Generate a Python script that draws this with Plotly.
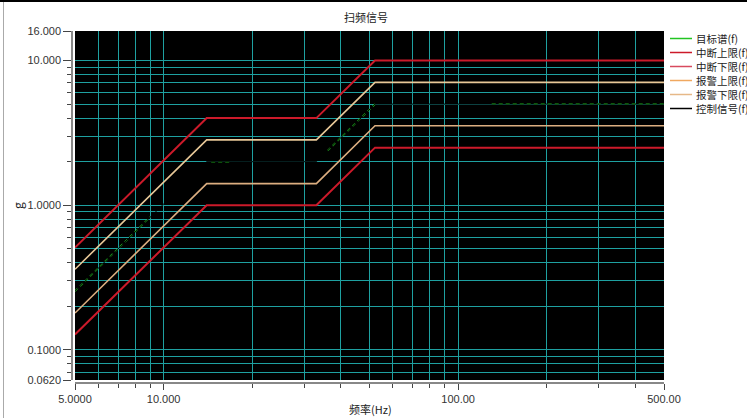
import math
import plotly.graph_objects as go

# ---------------- data ----------------
freq = [5, 14, 33, 52.2, 500]
abort_upper = [0.51, 4.0, 4.0, 10.0, 10.0]
alarm_upper = [0.361, 2.83, 2.83, 7.07, 7.07]
alarm_lower = [0.18, 1.41, 1.41, 3.54, 3.54]
abort_lower = [0.128, 1.0, 1.0, 2.5, 2.5]

# target spectrum (only partly drawn in the reference)
target_freq = [5, 9.0, None, 14.5, 17.0, None, 36.0, 52.2, None, 130, 500]
target_g = [0.255, 0.83, None, 2.0, 2.0, None, 2.38, 5.0, None, 5.0, 5.0]
control_freq = [5, 14, 33, 52.2, 500]
control_g = [0.255, 2.0, 2.0, 5.0, 5.0]

series_names = ["目标谱(f)", "中断上限(f)", "中断下限(f)", "报警上限(f)", "报警下限(f)", "控制信号(f)"]
series_colors = ["#22c422", "#cc1a2a", "#d84a5e", "#f0a860", "#e6b888", "#000000"]

x_major = [5, 10, 100, 500]
x_major_text = ["5.0000", "10.000", "100.00", "500.00"]
x_minor = [6, 7, 8, 9, 20, 30, 40, 50, 60, 70, 80, 90, 200, 300, 400]
y_major = [0.062, 0.1, 1, 10, 16]
y_major_text = ["0.0620", "0.1000", "1.0000", "10.000", "16.000"]
y_minor = [0.07, 0.08, 0.09, 0.2, 0.3, 0.4, 0.5, 0.6, 0.7, 0.8, 0.9,
           2, 3, 4, 5, 6, 7, 8, 9]
x_grid = [6, 7, 8, 9, 10, 20, 30, 40, 50, 60, 70, 80, 90, 100, 200, 300, 400]
y_grid = [0.07, 0.08, 0.09, 0.1, 0.2, 0.3, 0.4, 0.5, 0.6, 0.7, 0.8, 0.9,
          1, 2, 3, 4, 5, 6, 7, 8, 9, 10]

# ---------------- layout geometry (pixels) ----------------
W, H = 747, 418
PL, PR, PT, PB = 72, 664, 31, 383  # paper region
pw, ph = PR - PL, PB - PT


def px(xp):
    return (xp - PL) / pw


def py(yp):
    return (PB - yp) / ph


xr = [math.log10(5), math.log10(500)]
yr = [math.log10(0.062), math.log10(16)]

fig = go.Figure()

grid_col = "#1ea0a0"

lines = [
    (abort_upper, series_colors[1], 2.0),
    (abort_lower, series_colors[1], 2.0),
    (alarm_upper, "#e8c898", 1.6),
    (alarm_lower, "#dcae80", 1.6),
]
for vals, col, w in lines:
    fig.add_trace(go.Scatter(x=freq, y=vals, mode="lines",
                             line=dict(color=col, width=w), showlegend=False,
                             hoverinfo="skip"))

fig.add_trace(go.Scatter(x=target_freq, y=target_g, mode="lines",
                         line=dict(color=series_colors[0], width=1.5, dash="4px,3px"),
                         showlegend=False, connectgaps=False))
fig.add_trace(go.Scatter(x=control_freq, y=control_g, mode="lines",
                         line=dict(color="#000000", width=1), showlegend=False))

# dummy trace for the offset axes
fig.add_trace(go.Scatter(x=[5, 500], y=[0.062, 16], mode="none",
                         xaxis="x2", yaxis="y2", showlegend=False, hoverinfo="skip"))

xdom = [3 / pw, 1]
ydom = [3 / ph, 1]
tickfont = dict(family="Liberation Sans, Arial, sans-serif", size=11, color="#333333")

fig.update_layout(
    width=W, height=H,
    margin=dict(l=PL, r=W - PR, t=PT, b=H - PB, pad=0),
    paper_bgcolor="white",
    plot_bgcolor="black",
    showlegend=False,
    xaxis=dict(type="log", range=xr, domain=xdom, anchor="y",
               tickmode="array", tickvals=x_grid, showticklabels=False, ticks="",
               showgrid=True, gridcolor=grid_col, gridwidth=1, zeroline=False,
               showline=False),
    yaxis=dict(type="log", range=yr, domain=ydom, anchor="x",
               tickmode="array", tickvals=y_grid, showticklabels=False, ticks="",
               showgrid=True, gridcolor=grid_col, gridwidth=1, zeroline=False,
               showline=False),
    xaxis2=dict(type="log", range=xr, domain=xdom, overlaying="x", anchor="free",
                position=0, tickmode="array", tickvals=x_major, ticktext=x_major_text,
                ticks="outside", ticklen=6, tickcolor="#444444", tickwidth=1,
                minor=dict(tickvals=x_minor, ticks="outside", ticklen=4,
                           tickcolor="#444444", showgrid=False, gridcolor=grid_col),
                showgrid=False, gridcolor=grid_col, zeroline=False, showline=True,
                linecolor="#888888", linewidth=1.5, tickfont=tickfont),
    yaxis2=dict(type="log", range=yr, domain=ydom, overlaying="y", anchor="free",
                position=0, side="left", tickmode="array", tickvals=y_major,
                ticktext=y_major_text, ticks="outside", ticklen=8,
                tickcolor="#444444", tickwidth=1,
                minor=dict(tickvals=y_minor, ticks="outside", ticklen=4,
                           tickcolor="#444444", showgrid=False, gridcolor=grid_col),
                showgrid=False, gridcolor=grid_col, zeroline=False, showline=True,
                linecolor="#888888", linewidth=1.5, tickfont=tickfont),
)

cjk = "Noto Sans CJK SC, Liberation Sans, sans-serif"
annotations = [
    dict(text="扫频信号", x=px(366), y=py(17), xref="paper", yref="paper",
         showarrow=False, xanchor="center", yanchor="middle",
         font=dict(family=cjk, size=11, color="#222222")),
    dict(text="g", x=px(17), y=py(206), xref="paper", yref="paper",
         showarrow=False, textangle=-90, xanchor="center", yanchor="middle",
         font=dict(family=cjk, size=12, color="#222222")),
    dict(text="频率(Hz)", x=px(370), y=py(409), xref="paper", yref="paper",
         showarrow=False, xanchor="center", yanchor="middle",
         font=dict(family=cjk, size=11, color="#222222")),
]
shapes = []
for i, (name, col) in enumerate(zip(series_names, series_colors)):
    ypx = 38.5 + 14 * i
    shapes.append(dict(type="line", xref="paper", yref="paper",
                       x0=px(670), x1=px(692), y0=py(ypx), y1=py(ypx),
                       line=dict(color=col, width=1.5)))
    annotations.append(dict(text=name, x=px(695), y=py(ypx), xref="paper", yref="paper",
                            showarrow=False, xanchor="left", yanchor="middle",
                            borderpad=0,
                            font=dict(family=cjk, size=10.5, color="#222222")))

# frame of the screenshot
shapes.append(dict(type="line", xref="paper", yref="paper",
                   x0=px(0), x1=px(W), y0=py(1), y1=py(1),
                   line=dict(color="black", width=2)))
shapes.append(dict(type="line", xref="paper", yref="paper",
                   x0=px(3.5), x1=px(3.5), y0=py(2), y1=py(H),
                   line=dict(color="#aaaaaa", width=1)))

fig.update_layout(annotations=annotations, shapes=shapes)

fig.write_html("out.html",
               config={"displayModeBar": False},
               post_script="document.body.style.margin='0px';document.body.style.overflow='hidden';")
